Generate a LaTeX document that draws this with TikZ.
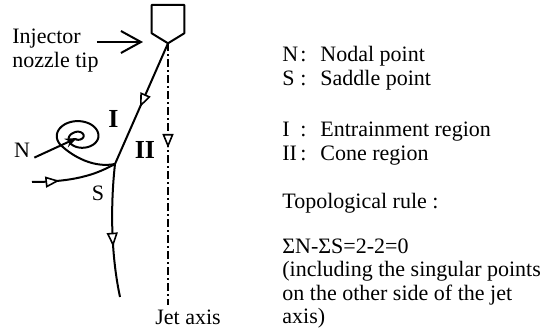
\documentclass[tikz,border=0pt]{standalone}
\usepackage{fontspec}
\setmainfont{Liberation Serif}
\usetikzlibrary{arrows.meta, positioning, decorations.markings}
\colorlet{colTrazo}{black}
\tikzset{
  lineaFlujo/.style={draw=colTrazo, line width=1pt, line join=round},
  flechaMedia/.style={postaction={decorate}, decoration={markings,
      mark=at position #1 with {\arrow{Triangle[fill=white, length=7pt, width=5.5pt, line width=0.8pt]}}}},
  ejeChorro/.style={draw=colTrazo, line width=0.7pt,
    dash pattern=on 4pt off 1.5pt on 1pt off 1.5pt},
  flechaTobera/.style={-{Straight Barb[length=10pt, width=11pt]}, line width=1pt, colTrazo},
  flechaNodo/.style={-{Stealth[length=6pt, width=4.6pt]}, line width=1pt, colTrazo},
  textoBase/.style={font=\fontsize{11}{11.75}\selectfont, inner sep=0pt, text=colTrazo},
  etiquetaRegion/.style={font=\fontsize{13}{13}\selectfont\bfseries, inner sep=0pt},
}

\begin{document}
\begin{tikzpicture}[x=0.5pt, y=-0.5pt, every node/.style={textoBase},
    declare function={avance(\t)=max(0,min(1,(\t-120)/240));
      radio(\t)=3.5+0.003*(\t+180)+9.5*(3*avance(\t)^2-2*avance(\t)^3);}]
  \useasboundingbox (0,0) rectangle (548,331);

  % Nozzle and jet axis
  \coordinate (tobera) at (168,43.3);
  \coordinate (finEje) at (168,305);
  \draw[lineaFlujo] (151.7,5) -- (184.3,5) -- (184.3,33.3) -- (tobera)
    -- (151.7,33.3) -- cycle;
  \draw[ejeChorro, flechaMedia=0.40] (tobera) -- (finEje);

  % Saddle point and the streamlines through it
  \coordinate (S) at (115,164);
  \coordinate (entrada) at (32,182);
  \coordinate (salida) at (120,297);
  \draw[lineaFlujo, flechaMedia=0.53] (tobera) -- (S);
  \draw[lineaFlujo, flechaMedia=0.32] (entrada) .. controls (80,182) and (100,172) .. (S);
  \draw[lineaFlujo, flechaMedia=0.62] (S) .. controls (111,200) and (110,250) .. (salida);

  % Nodal point: spiral with its tail into S
  \coordinate (N) at (77,138);
  \draw[lineaFlujo] plot[domain=-120:575, samples=200, variable=\t]
      ({78+1.4*radio(\t)*cos(\t)}, {136-radio(\t)*sin(\t)})
      .. controls (67.5,152) and (90,169) .. (S);

  % Labels
  \node[anchor=base west] (inyector) at (12,44)
    {\begin{tabular}[t]{@{}l@{}}Injector\\nozzle tip\end{tabular}};
  \coordinate (inyectorCola) at (97,42);
  \coordinate (inyectorPunta) at (143,42);
  \draw[flechaTobera] (inyectorCola) -- (inyectorPunta);

  \node (etiqN) at (22,150) {N};
  \draw[flechaNodo] ([xshift=2pt]etiqN.south east) -- (N);
  \node (etiqS) at (98,193) {S};
  \node[etiquetaRegion] (regionI) at (113.5,118.5) {I};
  \node[etiquetaRegion] (regionII) at (145,150) {II};
  \node[anchor=base west] (ejeTexto) at (155,325) {Jet axis};

  % Legend
  \node[anchor=base west] (leyenda) at (282,62) {%
    \begin{tabular}[t]{@{}l@{\hspace{1pt}:\hspace{7pt}}l@{}}
      N & Nodal point\\
      S & Saddle point\\[14pt]
      I & Entrainment region\\
      II & Cone region\\[12.25pt]
      \multicolumn{2}{@{}l@{}}{Topological rule :}\\[10.75pt]
      \multicolumn{2}{@{}l@{}}{ΣN-ΣS=2-2=0}\\
      \multicolumn{2}{@{}l@{}}{(including the singular points}\\
      \multicolumn{2}{@{}l@{}}{on the other side of the jet}\\
      \multicolumn{2}{@{}l@{}}{axis)}
    \end{tabular}};
\end{tikzpicture}
\end{document}
